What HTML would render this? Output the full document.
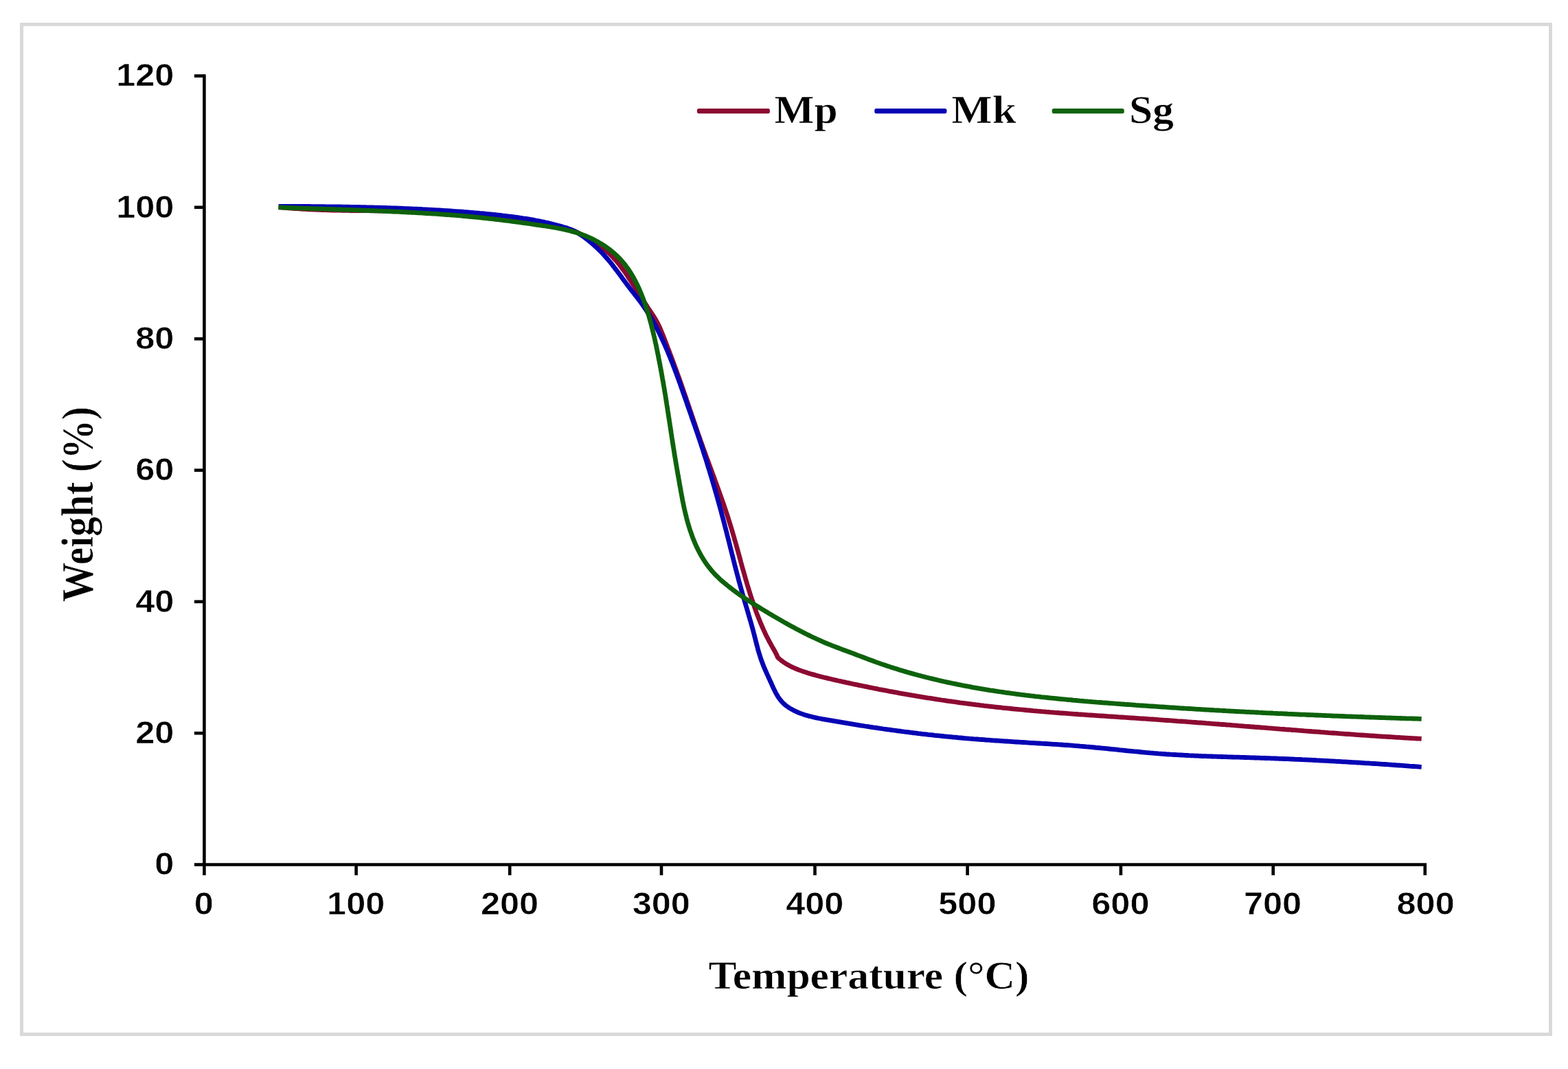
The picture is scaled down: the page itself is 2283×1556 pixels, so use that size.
<!DOCTYPE html>
<html lang="en"><head><meta charset="utf-8"><title>TGA curves</title>
<style>html,body{margin:0;padding:0;background:#fff;}body{width:2283px;height:1556px;overflow:hidden;}svg{display:block;filter:blur(0.55px);}.sans{font-family:"Liberation Sans",sans-serif;font-weight:bold;fill:#000;stroke:#fff;stroke-width:0.6px;stroke-linejoin:round;}.serif{font-family:"Liberation Serif",serif;font-weight:bold;fill:#000;stroke:#fff;stroke-width:0.6px;stroke-linejoin:round;}</style></head><body>
<svg width="2283" height="1556" viewBox="0 0 2283 1556">
<rect x="0" y="0" width="2283" height="1556" fill="#fff"/>
<rect x="31.5" y="35.5" width="2226.0" height="1470.0" fill="none" stroke="#d9d9d9" stroke-width="5.0"/>
<g stroke="#000" stroke-width="4.6" fill="none" stroke-linecap="butt">
<path d="M297.4 108.2 V1260.8"/>
<path d="M295.1 1258.5 H2077.1"/>
<path d="M282.9 1258.5 H297.4"/>
<path d="M282.9 1067.2 H297.4"/>
<path d="M282.9 875.8 H297.4"/>
<path d="M282.9 684.5 H297.4"/>
<path d="M282.9 493.2 H297.4"/>
<path d="M282.9 301.8 H297.4"/>
<path d="M282.9 110.5 H297.4"/>
<path d="M297.4 1258.5 V1274.0"/>
<path d="M518.6 1258.5 V1274.0"/>
<path d="M742.2 1258.5 V1274.0"/>
<path d="M963.0 1258.5 V1274.0"/>
<path d="M1186.5 1258.5 V1274.0"/>
<path d="M1408.6 1258.5 V1274.0"/>
<path d="M1631.9 1258.5 V1274.0"/>
<path d="M1853.7 1258.5 V1274.0"/>
<path d="M2074.8 1258.5 V1274.0"/>
</g>
<text class="sans" font-size="46.9" text-anchor="end" transform="translate(253.4 1273.2) scale(1.077 1)">0</text>
<text class="sans" font-size="46.9" text-anchor="end" transform="translate(253.4 1081.9) scale(1.077 1)">20</text>
<text class="sans" font-size="46.9" text-anchor="end" transform="translate(253.4 890.5) scale(1.077 1)">40</text>
<text class="sans" font-size="46.9" text-anchor="end" transform="translate(253.4 699.2) scale(1.077 1)">60</text>
<text class="sans" font-size="46.9" text-anchor="end" transform="translate(253.4 507.9) scale(1.077 1)">80</text>
<text class="sans" font-size="46.9" text-anchor="end" transform="translate(253.4 316.5) scale(1.077 1)">100</text>
<text class="sans" font-size="46.9" text-anchor="end" transform="translate(253.4 125.2) scale(1.077 1)">120</text>
<text class="sans" font-size="46.9" text-anchor="middle" transform="translate(296.9 1331.0) scale(1.077 1)">0</text>
<text class="sans" font-size="46.9" text-anchor="middle" transform="translate(518.2 1331.0) scale(1.077 1)">100</text>
<text class="sans" font-size="46.9" text-anchor="middle" transform="translate(742.0 1331.0) scale(1.077 1)">200</text>
<text class="sans" font-size="46.9" text-anchor="middle" transform="translate(962.8 1331.0) scale(1.077 1)">300</text>
<text class="sans" font-size="46.9" text-anchor="middle" transform="translate(1186.3 1331.0) scale(1.077 1)">400</text>
<text class="sans" font-size="46.9" text-anchor="middle" transform="translate(1408.4 1331.0) scale(1.077 1)">500</text>
<text class="sans" font-size="46.9" text-anchor="middle" transform="translate(1631.4 1331.0) scale(1.077 1)">600</text>
<text class="sans" font-size="46.9" text-anchor="middle" transform="translate(1853.0 1331.0) scale(1.077 1)">700</text>
<text class="sans" font-size="46.9" text-anchor="middle" transform="translate(2075.6 1331.0) scale(1.077 1)">800</text>
<text class="serif" font-size="57.5" text-anchor="middle" transform="translate(1265 1438.6) scale(1.07 1)">Temperature (°C)</text>
<text class="serif" font-size="57.1" text-anchor="middle" transform="translate(135.4 734) rotate(-90) scale(1 1.138)">Weight (%)</text>
<g fill="none" stroke-width="6.8" stroke-linejoin="round" stroke-linecap="butt">
<path stroke="#8c0a32" d="M405.6 301.5 L408.6 301.8 L411.6 302.1 L414.6 302.3 L417.5 302.6 L420.5 302.8 L423.5 303.1 L426.5 303.3 L429.5 303.5 L432.5 303.7 L435.5 303.9 L438.5 304.1 L441.5 304.3 L444.4 304.4 L447.4 304.6 L450.4 304.8 L453.4 304.9 L456.4 305.0 L459.4 305.2 L462.4 305.3 L465.4 305.4 L468.4 305.5 L471.4 305.6 L474.4 305.7 L477.4 305.8 L480.4 305.9 L483.4 306.0 L486.4 306.0 L489.4 306.1 L492.4 306.2 L495.4 306.2 L498.4 306.3 L501.4 306.3 L504.4 306.4 L507.3 306.4 L510.3 306.5 L513.3 306.5 L516.3 306.5 L519.3 306.6 L522.3 306.6 L525.3 306.6 L528.3 306.7 L531.3 306.7 L534.3 306.7 L537.3 306.7 L540.3 306.8 L543.3 306.8 L546.3 306.8 L549.3 306.8 L552.3 306.8 L555.3 306.9 L558.3 306.9 L561.3 306.9 L564.3 306.9 L567.3 306.9 L570.3 307.0 L573.3 307.0 L576.3 307.0 L579.3 307.1 L582.3 307.1 L585.3 307.1 L588.3 307.2 L591.3 307.2 L594.3 307.3 L597.3 307.3 L600.3 307.4 L603.3 307.5 L606.3 307.5 L609.3 307.6 L612.3 307.7 L615.3 307.7 L618.3 307.8 L621.3 307.9 L624.3 308.0 L627.3 308.1 L630.3 308.2 L633.3 308.4 L636.3 308.5 L639.3 308.6 L642.3 308.8 L645.2 308.9 L648.2 309.1 L651.2 309.2 L654.2 309.4 L657.2 309.6 L660.2 309.8 L663.2 310.0 L666.2 310.2 L669.2 310.4 L672.2 310.6 L675.1 310.9 L678.1 311.1 L681.1 311.4 L684.1 311.6 L687.1 311.9 L690.1 312.2 L693.1 312.5 L696.0 312.8 L699.0 313.1 L702.0 313.4 L705.0 313.7 L708.0 314.0 L710.9 314.3 L713.9 314.7 L716.9 315.0 L719.9 315.4 L722.9 315.7 L725.8 316.1 L728.8 316.5 L731.8 316.9 L734.8 317.2 L737.7 317.6 L740.7 318.0 L743.7 318.4 L746.7 318.8 L749.6 319.3 L752.6 319.7 L755.6 320.1 L758.6 320.5 L761.5 321.0 L764.5 321.4 L767.5 321.9 L770.4 322.3 L773.4 322.8 L776.4 323.2 L779.3 323.7 L782.3 324.2 L785.3 324.6 L788.2 325.1 L791.2 325.6 L794.2 326.1 L797.1 326.6 L800.1 327.1 L803.0 327.6 L806.0 328.2 L808.9 328.7 L811.8 329.4 L814.8 330.0 L817.7 330.7 L820.5 331.4 L823.4 332.2 L826.3 333.0 L829.1 333.9 L831.9 334.9 L834.7 335.9 L837.5 337.0 L840.2 338.2 L842.9 339.4 L845.6 340.8 L848.3 342.1 L850.9 343.5 L853.6 345.0 L856.2 346.5 L858.8 348.1 L861.3 349.7 L863.8 351.3 L866.4 353.0 L868.9 354.7 L871.3 356.4 L873.8 358.2 L876.2 360.0 L878.6 361.8 L880.9 363.6 L883.2 365.5 L885.4 367.5 L887.6 369.5 L889.7 371.6 L891.8 373.7 L893.8 375.9 L895.8 378.1 L897.8 380.3 L899.7 382.6 L901.5 384.9 L903.4 387.3 L905.1 389.7 L906.9 392.1 L908.7 394.5 L910.4 396.9 L912.1 399.4 L913.8 401.9 L915.4 404.4 L917.1 406.9 L918.7 409.4 L920.4 412.0 L922.0 414.5 L923.6 417.0 L925.2 419.6 L926.8 422.1 L928.5 424.6 L930.1 427.2 L931.7 429.7 L933.3 432.3 L934.9 434.8 L936.5 437.3 L938.1 439.8 L939.8 442.4 L941.4 444.9 L943.0 447.4 L944.7 449.9 L946.4 452.4 L948.0 454.9 L949.7 457.4 L951.3 459.9 L952.9 462.4 L954.5 465.0 L955.9 467.6 L957.3 470.2 L958.7 472.8 L960.0 475.5 L961.2 478.2 L962.4 481.0 L963.5 483.7 L964.7 486.5 L965.8 489.2 L966.9 492.0 L967.9 494.8 L969.0 497.6 L970.1 500.4 L971.2 503.2 L972.2 506.0 L973.3 508.8 L974.4 511.6 L975.4 514.4 L976.5 517.2 L977.5 520.0 L978.6 522.8 L979.6 525.6 L980.7 528.4 L981.7 531.3 L982.7 534.1 L983.8 536.9 L984.8 539.7 L985.8 542.5 L986.8 545.3 L987.9 548.2 L988.9 551.0 L989.9 553.8 L990.9 556.6 L991.9 559.4 L992.9 562.3 L993.9 565.1 L994.9 567.9 L995.8 570.8 L996.8 573.6 L997.8 576.4 L998.8 579.3 L999.7 582.1 L1000.7 584.9 L1001.7 587.8 L1002.6 590.6 L1003.6 593.4 L1004.5 596.3 L1005.5 599.1 L1006.5 601.9 L1007.4 604.8 L1008.4 607.6 L1009.3 610.4 L1010.3 613.3 L1011.3 616.1 L1012.2 618.9 L1013.2 621.8 L1014.2 624.6 L1015.1 627.4 L1016.1 630.3 L1017.1 633.1 L1018.1 635.9 L1019.1 638.7 L1020.1 641.6 L1021.1 644.4 L1022.1 647.2 L1023.1 650.0 L1024.1 652.8 L1025.1 655.6 L1026.2 658.5 L1027.2 661.3 L1028.2 664.1 L1029.2 666.9 L1030.3 669.7 L1031.3 672.5 L1032.3 675.3 L1033.4 678.2 L1034.4 681.0 L1035.5 683.8 L1036.5 686.6 L1037.5 689.4 L1038.6 692.2 L1039.6 695.0 L1040.6 697.8 L1041.6 700.7 L1042.7 703.5 L1043.7 706.3 L1044.7 709.1 L1045.7 711.9 L1046.7 714.7 L1047.7 717.6 L1048.7 720.4 L1049.7 723.2 L1050.7 726.0 L1051.7 728.9 L1052.7 731.7 L1053.7 734.5 L1054.7 737.4 L1055.6 740.2 L1056.6 743.0 L1057.5 745.9 L1058.5 748.7 L1059.4 751.6 L1060.3 754.4 L1061.2 757.3 L1062.1 760.1 L1063.0 763.0 L1063.9 765.9 L1064.8 768.7 L1065.6 771.6 L1066.5 774.5 L1067.3 777.3 L1068.2 780.2 L1069.0 783.1 L1069.8 786.0 L1070.7 788.9 L1071.5 791.8 L1072.3 794.7 L1073.1 797.5 L1073.9 800.4 L1074.7 803.3 L1075.5 806.2 L1076.3 809.1 L1077.1 812.0 L1077.9 814.9 L1078.6 817.8 L1079.4 820.7 L1080.2 823.6 L1081.0 826.5 L1081.8 829.4 L1082.7 832.2 L1083.5 835.1 L1084.3 838.0 L1085.1 840.9 L1085.9 843.8 L1086.8 846.7 L1087.6 849.5 L1088.5 852.4 L1089.3 855.3 L1090.2 858.1 L1091.1 861.0 L1092.0 863.9 L1092.9 866.7 L1093.8 869.6 L1094.7 872.4 L1095.7 875.2 L1096.6 878.1 L1097.6 880.9 L1098.6 883.7 L1099.6 886.6 L1100.6 889.4 L1101.6 892.2 L1102.7 895.0 L1103.8 897.8 L1104.9 900.6 L1106.0 903.3 L1107.1 906.1 L1108.3 908.9 L1109.5 911.6 L1110.7 914.4 L1111.9 917.1 L1113.2 919.8 L1114.4 922.5 L1115.7 925.2 L1117.1 927.9 L1118.5 930.5 L1119.8 933.2 L1121.3 935.8 L1122.7 938.5 L1124.2 941.1 L1125.7 943.7 L1127.2 946.3 L1128.6 948.9 L1130.0 951.6 L1131.3 954.3 L1132.5 957.0 L1134.7 959.0 L1137.1 961.0 L1139.4 962.8 L1141.9 964.5 L1144.4 966.1 L1146.9 967.6 L1149.5 969.0 L1152.2 970.4 L1154.9 971.7 L1157.6 972.9 L1160.4 974.0 L1163.1 975.1 L1166.0 976.1 L1168.8 977.1 L1171.6 978.1 L1174.5 979.0 L1177.3 979.9 L1180.2 980.8 L1183.1 981.6 L1186.0 982.4 L1188.9 983.2 L1191.8 984.0 L1194.7 984.8 L1197.6 985.5 L1200.5 986.2 L1203.4 986.9 L1206.4 987.6 L1209.3 988.3 L1212.2 989.0 L1215.2 989.7 L1218.1 990.3 L1221.0 991.0 L1224.0 991.6 L1226.9 992.3 L1229.8 992.9 L1232.8 993.6 L1235.7 994.2 L1238.7 994.8 L1241.6 995.5 L1244.5 996.1 L1247.5 996.7 L1250.4 997.3 L1253.3 997.9 L1256.3 998.5 L1259.2 999.1 L1262.2 999.7 L1265.1 1000.3 L1268.0 1000.9 L1271.0 1001.5 L1273.9 1002.1 L1276.9 1002.7 L1279.8 1003.3 L1282.7 1003.8 L1285.7 1004.4 L1288.6 1004.9 L1291.6 1005.5 L1294.5 1006.1 L1297.5 1006.6 L1300.4 1007.1 L1303.3 1007.7 L1306.3 1008.2 L1309.2 1008.8 L1312.2 1009.3 L1315.1 1009.8 L1318.1 1010.3 L1321.0 1010.8 L1324.0 1011.4 L1326.9 1011.9 L1329.9 1012.4 L1332.8 1012.9 L1335.8 1013.4 L1338.7 1013.8 L1341.7 1014.3 L1344.6 1014.8 L1347.6 1015.3 L1350.5 1015.8 L1353.5 1016.2 L1356.4 1016.7 L1359.4 1017.2 L1362.3 1017.6 L1365.3 1018.1 L1368.2 1018.5 L1371.2 1019.0 L1374.2 1019.4 L1377.1 1019.8 L1380.1 1020.3 L1383.0 1020.7 L1386.0 1021.1 L1388.9 1021.5 L1391.9 1021.9 L1394.9 1022.3 L1397.8 1022.8 L1400.8 1023.2 L1403.7 1023.5 L1406.7 1023.9 L1409.7 1024.3 L1412.6 1024.7 L1415.6 1025.1 L1418.6 1025.5 L1421.5 1025.8 L1424.5 1026.2 L1427.5 1026.6 L1430.4 1026.9 L1433.4 1027.3 L1436.4 1027.6 L1439.3 1028.0 L1442.3 1028.3 L1445.3 1028.6 L1448.3 1029.0 L1451.2 1029.3 L1454.2 1029.6 L1457.2 1029.9 L1460.2 1030.3 L1463.1 1030.6 L1466.1 1030.9 L1469.1 1031.2 L1472.1 1031.5 L1475.0 1031.8 L1478.0 1032.1 L1481.0 1032.4 L1484.0 1032.7 L1487.0 1032.9 L1489.9 1033.2 L1492.9 1033.5 L1495.9 1033.8 L1498.9 1034.0 L1501.9 1034.3 L1504.9 1034.6 L1507.8 1034.8 L1510.8 1035.1 L1513.8 1035.3 L1516.8 1035.6 L1519.8 1035.8 L1522.8 1036.1 L1525.8 1036.3 L1528.7 1036.6 L1531.7 1036.8 L1534.7 1037.1 L1537.7 1037.3 L1540.7 1037.5 L1543.7 1037.8 L1546.7 1038.0 L1549.7 1038.2 L1552.7 1038.4 L1555.6 1038.7 L1558.6 1038.9 L1561.6 1039.1 L1564.6 1039.3 L1567.6 1039.5 L1570.6 1039.8 L1573.6 1040.0 L1576.6 1040.2 L1579.6 1040.4 L1582.6 1040.6 L1585.6 1040.8 L1588.6 1041.0 L1591.5 1041.2 L1594.5 1041.4 L1597.5 1041.6 L1600.5 1041.8 L1603.5 1042.0 L1606.5 1042.2 L1609.5 1042.4 L1612.5 1042.6 L1615.5 1042.8 L1618.5 1043.0 L1621.5 1043.2 L1624.5 1043.4 L1627.5 1043.6 L1630.5 1043.8 L1633.5 1044.0 L1636.4 1044.2 L1639.4 1044.4 L1642.4 1044.6 L1645.4 1044.8 L1648.4 1045.0 L1651.4 1045.2 L1654.4 1045.4 L1657.4 1045.6 L1660.4 1045.8 L1663.4 1046.0 L1666.4 1046.2 L1669.4 1046.4 L1672.4 1046.6 L1675.4 1046.8 L1678.3 1047.0 L1681.3 1047.2 L1684.3 1047.4 L1687.3 1047.7 L1690.3 1047.9 L1693.3 1048.1 L1696.3 1048.3 L1699.3 1048.5 L1702.3 1048.7 L1705.3 1048.9 L1708.2 1049.1 L1711.2 1049.3 L1714.2 1049.6 L1717.2 1049.8 L1720.2 1050.0 L1723.2 1050.2 L1726.2 1050.4 L1729.2 1050.7 L1732.2 1050.9 L1735.1 1051.1 L1738.1 1051.3 L1741.1 1051.5 L1744.1 1051.8 L1747.1 1052.0 L1750.1 1052.2 L1753.1 1052.4 L1756.0 1052.7 L1759.0 1052.9 L1762.0 1053.1 L1765.0 1053.4 L1768.0 1053.6 L1771.0 1053.8 L1774.0 1054.0 L1776.9 1054.3 L1779.9 1054.5 L1782.9 1054.7 L1785.9 1055.0 L1788.9 1055.2 L1791.9 1055.4 L1794.9 1055.7 L1797.8 1055.9 L1800.8 1056.1 L1803.8 1056.4 L1806.8 1056.6 L1809.8 1056.8 L1812.8 1057.1 L1815.7 1057.3 L1818.7 1057.5 L1821.7 1057.8 L1824.7 1058.0 L1827.7 1058.3 L1830.7 1058.5 L1833.7 1058.7 L1836.6 1059.0 L1839.6 1059.2 L1842.6 1059.4 L1845.6 1059.7 L1848.6 1059.9 L1851.6 1060.1 L1854.5 1060.4 L1857.5 1060.6 L1860.5 1060.8 L1863.5 1061.1 L1866.5 1061.3 L1869.5 1061.5 L1872.4 1061.8 L1875.4 1062.0 L1878.4 1062.2 L1881.4 1062.5 L1884.4 1062.7 L1887.4 1062.9 L1890.4 1063.2 L1893.3 1063.4 L1896.3 1063.6 L1899.3 1063.9 L1902.3 1064.1 L1905.3 1064.3 L1908.3 1064.5 L1911.2 1064.8 L1914.2 1065.0 L1917.2 1065.2 L1920.2 1065.4 L1923.2 1065.7 L1926.2 1065.9 L1929.2 1066.1 L1932.1 1066.3 L1935.1 1066.6 L1938.1 1066.8 L1941.1 1067.0 L1944.1 1067.2 L1947.1 1067.4 L1950.1 1067.7 L1953.0 1067.9 L1956.0 1068.1 L1959.0 1068.3 L1962.0 1068.5 L1965.0 1068.7 L1968.0 1068.9 L1971.0 1069.1 L1974.0 1069.4 L1976.9 1069.6 L1979.9 1069.8 L1982.9 1070.0 L1985.9 1070.2 L1988.9 1070.4 L1991.9 1070.6 L1994.9 1070.8 L1997.9 1071.0 L2000.9 1071.2 L2003.8 1071.4 L2006.8 1071.6 L2009.8 1071.8 L2012.8 1072.0 L2015.8 1072.1 L2018.8 1072.3 L2021.8 1072.5 L2024.8 1072.7 L2027.8 1072.9 L2030.8 1073.1 L2033.8 1073.3 L2036.8 1073.4 L2039.7 1073.6 L2042.7 1073.8 L2045.7 1074.0 L2048.7 1074.1 L2051.7 1074.3 L2054.7 1074.5 L2057.7 1074.6 L2060.7 1074.8 L2063.7 1075.0 L2066.7 1075.1 L2069.7 1075.3"/>
<path stroke="#0604b4" d="M405.6 300.3 L408.6 300.3 L411.6 300.3 L414.6 300.3 L417.6 300.3 L420.6 300.4 L423.6 300.4 L426.6 300.4 L429.6 300.4 L432.6 300.4 L435.6 300.4 L438.6 300.5 L441.7 300.5 L444.7 300.5 L447.7 300.5 L450.7 300.5 L453.7 300.6 L456.7 300.6 L459.7 300.6 L462.7 300.6 L465.7 300.7 L468.7 300.7 L471.7 300.7 L474.6 300.8 L477.6 300.8 L480.6 300.8 L483.6 300.9 L486.6 300.9 L489.6 300.9 L492.6 301.0 L495.6 301.0 L498.6 301.1 L501.6 301.1 L504.6 301.2 L507.6 301.2 L510.6 301.3 L513.6 301.3 L516.6 301.4 L519.6 301.4 L522.6 301.5 L525.6 301.6 L528.6 301.6 L531.6 301.7 L534.6 301.8 L537.6 301.8 L540.5 301.9 L543.5 302.0 L546.5 302.1 L549.5 302.1 L552.5 302.2 L555.5 302.3 L558.5 302.4 L561.5 302.5 L564.5 302.6 L567.5 302.7 L570.5 302.8 L573.5 302.9 L576.5 303.0 L579.5 303.1 L582.4 303.2 L585.4 303.3 L588.4 303.5 L591.4 303.6 L594.4 303.7 L597.4 303.8 L600.4 304.0 L603.4 304.1 L606.4 304.2 L609.4 304.4 L612.4 304.5 L615.4 304.7 L618.4 304.8 L621.3 305.0 L624.3 305.1 L627.3 305.3 L630.3 305.5 L633.3 305.6 L636.3 305.8 L639.3 306.0 L642.3 306.2 L645.3 306.4 L648.3 306.6 L651.3 306.7 L654.3 306.9 L657.3 307.1 L660.3 307.4 L663.3 307.6 L666.2 307.8 L669.2 308.0 L672.2 308.2 L675.2 308.5 L678.2 308.7 L681.2 308.9 L684.2 309.2 L687.2 309.4 L690.2 309.7 L693.2 309.9 L696.2 310.2 L699.2 310.5 L702.2 310.7 L705.2 311.0 L708.2 311.3 L711.2 311.6 L714.2 311.9 L717.2 312.2 L720.2 312.5 L723.2 312.8 L726.2 313.1 L729.2 313.4 L732.1 313.8 L735.1 314.1 L738.1 314.5 L741.1 314.9 L744.1 315.2 L747.1 315.6 L750.1 316.0 L753.0 316.4 L756.0 316.9 L759.0 317.3 L761.9 317.8 L764.9 318.2 L767.9 318.7 L770.8 319.2 L773.8 319.7 L776.7 320.2 L779.7 320.8 L782.6 321.3 L785.5 321.9 L788.5 322.5 L791.4 323.1 L794.3 323.8 L797.2 324.4 L800.1 325.1 L803.0 325.8 L805.9 326.5 L808.8 327.2 L811.7 328.0 L814.5 328.7 L817.4 329.5 L820.3 330.4 L823.1 331.2 L825.9 332.1 L828.7 333.1 L831.5 334.2 L834.2 335.4 L836.8 336.6 L839.4 338.0 L841.9 339.5 L844.4 341.1 L846.9 342.7 L849.4 344.4 L851.8 346.2 L854.2 348.0 L856.5 349.9 L858.9 351.8 L861.2 353.7 L863.5 355.7 L865.7 357.7 L868.0 359.7 L870.2 361.8 L872.3 363.9 L874.5 366.0 L876.6 368.2 L878.7 370.4 L880.7 372.6 L882.7 374.9 L884.7 377.1 L886.6 379.4 L888.5 381.7 L890.4 384.0 L892.2 386.3 L894.0 388.7 L895.8 391.1 L897.6 393.4 L899.4 395.8 L901.2 398.2 L903.0 400.6 L904.8 403.1 L906.5 405.5 L908.3 407.9 L910.1 410.3 L911.9 412.7 L913.7 415.1 L915.5 417.5 L917.3 419.9 L919.2 422.3 L921.0 424.6 L922.9 427.0 L924.7 429.3 L926.6 431.7 L928.4 434.0 L930.2 436.4 L932.0 438.8 L933.8 441.2 L935.5 443.6 L937.2 446.1 L938.9 448.6 L940.6 451.0 L942.2 453.6 L943.8 456.1 L945.4 458.6 L946.9 461.2 L948.4 463.8 L949.9 466.4 L951.4 469.0 L952.9 471.6 L954.3 474.2 L955.7 476.9 L957.1 479.5 L958.5 482.2 L959.8 484.9 L961.1 487.6 L962.4 490.3 L963.7 493.0 L965.0 495.7 L966.3 498.5 L967.5 501.2 L968.7 504.0 L969.9 506.7 L971.1 509.5 L972.3 512.2 L973.4 515.0 L974.6 517.8 L975.7 520.5 L976.8 523.3 L978.0 526.1 L979.1 528.9 L980.1 531.7 L981.2 534.5 L982.3 537.3 L983.3 540.1 L984.4 542.9 L985.4 545.7 L986.5 548.5 L987.5 551.3 L988.5 554.1 L989.5 556.9 L990.5 559.7 L991.5 562.6 L992.5 565.4 L993.5 568.2 L994.5 571.0 L995.5 573.8 L996.5 576.7 L997.5 579.5 L998.5 582.3 L999.5 585.1 L1000.4 588.0 L1001.4 590.8 L1002.4 593.6 L1003.4 596.5 L1004.4 599.3 L1005.4 602.1 L1006.4 604.9 L1007.3 607.8 L1008.3 610.6 L1009.3 613.4 L1010.3 616.3 L1011.3 619.1 L1012.3 621.9 L1013.2 624.8 L1014.2 627.6 L1015.2 630.4 L1016.2 633.3 L1017.1 636.1 L1018.1 639.0 L1019.0 641.8 L1020.0 644.6 L1020.9 647.5 L1021.8 650.3 L1022.8 653.2 L1023.7 656.0 L1024.6 658.9 L1025.5 661.7 L1026.4 664.6 L1027.4 667.4 L1028.3 670.3 L1029.2 673.2 L1030.0 676.0 L1030.9 678.9 L1031.8 681.7 L1032.7 684.6 L1033.6 687.5 L1034.4 690.3 L1035.3 693.2 L1036.2 696.1 L1037.0 699.0 L1037.9 701.8 L1038.7 704.7 L1039.5 707.6 L1040.4 710.5 L1041.2 713.3 L1042.0 716.2 L1042.9 719.1 L1043.7 722.0 L1044.5 724.9 L1045.3 727.8 L1046.1 730.6 L1046.9 733.5 L1047.7 736.4 L1048.5 739.3 L1049.3 742.2 L1050.1 745.1 L1050.8 748.0 L1051.6 750.9 L1052.4 753.8 L1053.1 756.7 L1053.9 759.6 L1054.7 762.5 L1055.4 765.4 L1056.2 768.3 L1056.9 771.2 L1057.7 774.1 L1058.4 777.0 L1059.1 779.9 L1059.9 782.8 L1060.6 785.7 L1061.4 788.7 L1062.1 791.6 L1062.8 794.5 L1063.5 797.4 L1064.3 800.3 L1065.0 803.2 L1065.7 806.1 L1066.5 809.0 L1067.2 811.9 L1067.9 814.8 L1068.7 817.8 L1069.4 820.7 L1070.1 823.6 L1070.9 826.5 L1071.6 829.4 L1072.4 832.3 L1073.1 835.2 L1073.9 838.1 L1074.7 841.0 L1075.4 843.9 L1076.2 846.8 L1077.0 849.7 L1077.8 852.6 L1078.6 855.4 L1079.4 858.3 L1080.2 861.2 L1081.0 864.1 L1081.8 867.0 L1082.6 869.9 L1083.5 872.7 L1084.3 875.6 L1085.2 878.5 L1086.0 881.3 L1086.9 884.2 L1087.7 887.1 L1088.6 890.0 L1089.4 892.8 L1090.2 895.7 L1091.1 898.6 L1091.9 901.4 L1092.8 904.3 L1093.6 907.2 L1094.4 910.1 L1095.2 913.0 L1096.0 915.9 L1096.8 918.7 L1097.5 921.6 L1098.3 924.5 L1099.0 927.5 L1099.8 930.4 L1100.5 933.3 L1101.2 936.2 L1102.0 939.1 L1102.8 942.0 L1103.5 944.9 L1104.3 947.8 L1105.2 950.7 L1106.1 953.5 L1107.0 956.4 L1107.9 959.2 L1108.9 962.0 L1110.0 964.8 L1111.0 967.6 L1112.1 970.4 L1113.3 973.2 L1114.5 975.9 L1115.7 978.7 L1116.9 981.4 L1118.2 984.1 L1119.4 986.8 L1120.7 989.6 L1121.9 992.3 L1123.2 995.0 L1124.4 997.8 L1125.6 1000.5 L1126.9 1003.2 L1128.2 1005.9 L1129.6 1008.6 L1131.1 1011.2 L1132.6 1013.8 L1134.3 1016.3 L1136.1 1018.7 L1138.0 1021.0 L1140.0 1023.1 L1142.2 1025.2 L1144.5 1027.1 L1146.9 1028.9 L1149.4 1030.5 L1152.0 1032.1 L1154.7 1033.5 L1157.4 1034.9 L1160.1 1036.1 L1162.8 1037.3 L1165.6 1038.4 L1168.4 1039.4 L1171.3 1040.4 L1174.1 1041.2 L1177.0 1042.1 L1179.9 1042.8 L1182.8 1043.5 L1185.7 1044.2 L1188.7 1044.9 L1191.6 1045.5 L1194.5 1046.0 L1197.5 1046.6 L1200.5 1047.1 L1203.4 1047.7 L1206.4 1048.2 L1209.4 1048.7 L1212.3 1049.2 L1215.3 1049.7 L1218.2 1050.2 L1221.2 1050.7 L1224.2 1051.2 L1227.1 1051.7 L1230.1 1052.2 L1233.1 1052.7 L1236.0 1053.2 L1239.0 1053.7 L1241.9 1054.2 L1244.9 1054.7 L1247.9 1055.1 L1250.8 1055.6 L1253.8 1056.1 L1256.8 1056.5 L1259.7 1057.0 L1262.7 1057.4 L1265.6 1057.9 L1268.6 1058.3 L1271.6 1058.8 L1274.5 1059.2 L1277.5 1059.7 L1280.5 1060.1 L1283.4 1060.5 L1286.4 1061.0 L1289.3 1061.4 L1292.3 1061.8 L1295.3 1062.2 L1298.2 1062.6 L1301.2 1063.0 L1304.2 1063.4 L1307.1 1063.8 L1310.1 1064.2 L1313.1 1064.6 L1316.0 1065.0 L1319.0 1065.4 L1322.0 1065.7 L1324.9 1066.1 L1327.9 1066.5 L1330.9 1066.8 L1333.9 1067.2 L1336.8 1067.6 L1339.8 1067.9 L1342.8 1068.3 L1345.7 1068.6 L1348.7 1068.9 L1351.7 1069.3 L1354.7 1069.6 L1357.7 1069.9 L1360.6 1070.3 L1363.6 1070.6 L1366.6 1070.9 L1369.6 1071.2 L1372.5 1071.5 L1375.5 1071.8 L1378.5 1072.1 L1381.5 1072.4 L1384.5 1072.7 L1387.5 1073.0 L1390.5 1073.2 L1393.4 1073.5 L1396.4 1073.8 L1399.4 1074.0 L1402.4 1074.3 L1405.4 1074.6 L1408.4 1074.8 L1411.4 1075.1 L1414.4 1075.3 L1417.4 1075.6 L1420.4 1075.8 L1423.3 1076.0 L1426.3 1076.3 L1429.3 1076.5 L1432.3 1076.7 L1435.3 1077.0 L1438.3 1077.2 L1441.3 1077.4 L1444.3 1077.6 L1447.3 1077.8 L1450.3 1078.0 L1453.3 1078.2 L1456.3 1078.4 L1459.3 1078.6 L1462.3 1078.8 L1465.3 1079.0 L1468.3 1079.2 L1471.3 1079.4 L1474.3 1079.6 L1477.2 1079.8 L1480.2 1080.0 L1483.2 1080.2 L1486.2 1080.4 L1489.2 1080.5 L1492.2 1080.7 L1495.2 1080.9 L1498.2 1081.1 L1501.2 1081.3 L1504.2 1081.4 L1507.2 1081.6 L1510.2 1081.8 L1513.2 1082.0 L1516.1 1082.2 L1519.1 1082.3 L1522.1 1082.5 L1525.1 1082.7 L1528.1 1082.9 L1531.1 1083.1 L1534.1 1083.3 L1537.1 1083.4 L1540.1 1083.6 L1543.0 1083.8 L1546.0 1084.0 L1549.0 1084.3 L1552.0 1084.5 L1555.0 1084.7 L1558.0 1084.9 L1561.0 1085.1 L1564.0 1085.4 L1566.9 1085.6 L1569.9 1085.8 L1572.9 1086.1 L1575.9 1086.3 L1578.9 1086.6 L1581.9 1086.9 L1584.9 1087.1 L1587.8 1087.4 L1590.8 1087.7 L1593.8 1088.0 L1596.8 1088.3 L1599.8 1088.5 L1602.8 1088.8 L1605.8 1089.1 L1608.7 1089.4 L1611.7 1089.7 L1614.7 1090.0 L1617.7 1090.3 L1620.7 1090.6 L1623.7 1090.9 L1626.6 1091.2 L1629.6 1091.6 L1632.6 1091.9 L1635.6 1092.2 L1638.6 1092.5 L1641.6 1092.8 L1644.6 1093.1 L1647.5 1093.4 L1650.5 1093.7 L1653.5 1093.9 L1656.5 1094.2 L1659.5 1094.5 L1662.5 1094.8 L1665.5 1095.1 L1668.5 1095.4 L1671.4 1095.6 L1674.4 1095.9 L1677.4 1096.1 L1680.4 1096.4 L1683.4 1096.6 L1686.4 1096.9 L1689.4 1097.1 L1692.4 1097.3 L1695.4 1097.5 L1698.3 1097.8 L1701.3 1098.0 L1704.3 1098.2 L1707.3 1098.3 L1710.3 1098.5 L1713.3 1098.7 L1716.3 1098.9 L1719.3 1099.0 L1722.3 1099.2 L1725.3 1099.4 L1728.3 1099.5 L1731.3 1099.7 L1734.3 1099.8 L1737.3 1099.9 L1740.3 1100.1 L1743.3 1100.2 L1746.3 1100.3 L1749.2 1100.5 L1752.2 1100.6 L1755.2 1100.7 L1758.2 1100.8 L1761.2 1100.9 L1764.2 1101.0 L1767.2 1101.1 L1770.2 1101.2 L1773.2 1101.3 L1776.2 1101.4 L1779.2 1101.5 L1782.2 1101.6 L1785.2 1101.7 L1788.2 1101.8 L1791.2 1101.9 L1794.2 1102.0 L1797.2 1102.1 L1800.2 1102.1 L1803.2 1102.2 L1806.2 1102.3 L1809.2 1102.4 L1812.2 1102.5 L1815.2 1102.6 L1818.2 1102.7 L1821.2 1102.8 L1824.2 1102.9 L1827.2 1103.0 L1830.2 1103.1 L1833.2 1103.2 L1836.2 1103.3 L1839.2 1103.4 L1842.2 1103.5 L1845.2 1103.6 L1848.2 1103.7 L1851.2 1103.8 L1854.2 1103.9 L1857.2 1104.0 L1860.2 1104.1 L1863.2 1104.3 L1866.2 1104.4 L1869.1 1104.5 L1872.1 1104.6 L1875.1 1104.7 L1878.1 1104.9 L1881.1 1105.0 L1884.1 1105.1 L1887.1 1105.3 L1890.1 1105.4 L1893.1 1105.5 L1896.1 1105.7 L1899.1 1105.8 L1902.1 1105.9 L1905.1 1106.1 L1908.1 1106.2 L1911.1 1106.4 L1914.1 1106.5 L1917.1 1106.7 L1920.1 1106.8 L1923.1 1107.0 L1926.1 1107.1 L1929.1 1107.3 L1932.1 1107.4 L1935.0 1107.6 L1938.0 1107.8 L1941.0 1107.9 L1944.0 1108.1 L1947.0 1108.3 L1950.0 1108.4 L1953.0 1108.6 L1956.0 1108.8 L1959.0 1108.9 L1962.0 1109.1 L1965.0 1109.3 L1968.0 1109.5 L1971.0 1109.6 L1974.0 1109.8 L1977.0 1110.0 L1980.0 1110.2 L1982.9 1110.4 L1985.9 1110.6 L1988.9 1110.8 L1991.9 1110.9 L1994.9 1111.1 L1997.9 1111.3 L2000.9 1111.5 L2003.9 1111.7 L2006.9 1111.9 L2009.9 1112.1 L2012.9 1112.3 L2015.9 1112.5 L2018.9 1112.7 L2021.8 1112.9 L2024.8 1113.1 L2027.8 1113.3 L2030.8 1113.5 L2033.8 1113.8 L2036.8 1114.0 L2039.8 1114.2 L2042.8 1114.4 L2045.8 1114.6 L2048.8 1114.8 L2051.8 1115.1 L2054.7 1115.3 L2057.7 1115.5 L2060.7 1115.7 L2063.7 1115.9 L2066.7 1116.2 L2069.7 1116.4"/>
<path stroke="#0e620c" d="M405.6 301.8 L408.6 301.9 L411.6 302.0 L414.6 302.2 L417.5 302.3 L420.5 302.4 L423.5 302.5 L426.5 302.6 L429.5 302.7 L432.5 302.9 L435.5 303.0 L438.5 303.1 L441.5 303.2 L444.5 303.3 L447.5 303.4 L450.5 303.5 L453.4 303.6 L456.4 303.7 L459.4 303.8 L462.4 303.9 L465.4 304.0 L468.4 304.1 L471.4 304.2 L474.4 304.3 L477.4 304.4 L480.4 304.5 L483.4 304.6 L486.4 304.7 L489.4 304.8 L492.4 304.9 L495.4 305.0 L498.4 305.1 L501.4 305.2 L504.4 305.3 L507.4 305.4 L510.4 305.5 L513.4 305.6 L516.4 305.7 L519.4 305.8 L522.4 305.9 L525.4 306.0 L528.4 306.1 L531.4 306.3 L534.4 306.4 L537.4 306.5 L540.4 306.6 L543.4 306.7 L546.4 306.8 L549.3 306.9 L552.3 307.1 L555.3 307.2 L558.3 307.3 L561.3 307.4 L564.3 307.6 L567.3 307.7 L570.3 307.8 L573.3 308.0 L576.3 308.1 L579.3 308.2 L582.3 308.4 L585.3 308.5 L588.3 308.7 L591.3 308.8 L594.3 309.0 L597.3 309.1 L600.3 309.3 L603.3 309.4 L606.3 309.6 L609.3 309.8 L612.3 309.9 L615.2 310.1 L618.2 310.3 L621.2 310.5 L624.2 310.7 L627.2 310.9 L630.2 311.1 L633.2 311.2 L636.2 311.4 L639.2 311.7 L642.2 311.9 L645.1 312.1 L648.1 312.3 L651.1 312.5 L654.1 312.7 L657.1 313.0 L660.1 313.2 L663.0 313.4 L666.0 313.7 L669.0 313.9 L672.0 314.2 L675.0 314.5 L678.0 314.7 L680.9 315.0 L683.9 315.3 L686.9 315.5 L689.9 315.8 L692.8 316.1 L695.8 316.4 L698.8 316.7 L701.8 317.0 L704.7 317.3 L707.7 317.6 L710.7 318.0 L713.7 318.3 L716.6 318.6 L719.6 319.0 L722.6 319.3 L725.5 319.7 L728.5 320.0 L731.5 320.4 L734.4 320.8 L737.4 321.1 L740.4 321.5 L743.3 321.9 L746.3 322.3 L749.3 322.7 L752.2 323.1 L755.2 323.5 L758.2 323.9 L761.1 324.3 L764.1 324.7 L767.1 325.1 L770.0 325.5 L773.0 326.0 L776.0 326.4 L779.0 326.8 L781.9 327.3 L784.9 327.7 L787.9 328.1 L790.8 328.6 L793.8 329.0 L796.8 329.5 L799.8 330.0 L802.7 330.5 L805.7 331.0 L808.7 331.5 L811.7 332.0 L814.6 332.6 L817.6 333.1 L820.5 333.8 L823.4 334.4 L826.4 335.1 L829.3 335.8 L832.2 336.6 L835.1 337.4 L838.0 338.2 L840.8 339.1 L843.7 340.1 L846.5 341.1 L849.3 342.1 L852.1 343.2 L854.9 344.4 L857.6 345.6 L860.4 346.8 L863.0 348.1 L865.7 349.5 L868.4 350.9 L871.0 352.3 L873.5 353.8 L876.1 355.3 L878.6 356.9 L881.1 358.6 L883.5 360.3 L885.9 362.0 L888.3 363.8 L890.6 365.6 L892.9 367.5 L895.1 369.5 L897.3 371.5 L899.4 373.5 L901.5 375.6 L903.5 377.8 L905.5 380.0 L907.4 382.2 L909.3 384.5 L911.2 386.9 L912.9 389.2 L914.7 391.7 L916.3 394.2 L918.0 396.7 L919.5 399.2 L921.1 401.8 L922.6 404.5 L924.0 407.1 L925.4 409.8 L926.8 412.5 L928.1 415.2 L929.4 418.0 L930.7 420.8 L931.9 423.6 L933.0 426.4 L934.2 429.2 L935.3 432.0 L936.4 434.8 L937.4 437.7 L938.5 440.5 L939.5 443.4 L940.4 446.2 L941.4 449.1 L942.3 451.9 L943.2 454.8 L944.0 457.6 L944.9 460.5 L945.7 463.4 L946.5 466.2 L947.3 469.1 L948.1 472.0 L948.8 474.9 L949.5 477.7 L950.2 480.6 L950.9 483.5 L951.6 486.4 L952.3 489.3 L953.0 492.2 L953.6 495.1 L954.2 498.0 L954.9 500.9 L955.5 503.8 L956.1 506.7 L956.7 509.6 L957.3 512.6 L957.9 515.5 L958.5 518.4 L959.0 521.4 L959.6 524.3 L960.2 527.2 L960.8 530.2 L961.3 533.1 L961.9 536.1 L962.4 539.0 L963.0 542.0 L963.5 544.9 L964.0 547.9 L964.5 550.8 L965.1 553.8 L965.6 556.7 L966.1 559.7 L966.6 562.7 L967.1 565.6 L967.6 568.6 L968.1 571.5 L968.6 574.5 L969.1 577.5 L969.5 580.4 L970.0 583.4 L970.5 586.4 L970.9 589.3 L971.4 592.3 L971.9 595.2 L972.3 598.2 L972.8 601.2 L973.2 604.1 L973.7 607.1 L974.2 610.1 L974.6 613.0 L975.1 616.0 L975.5 619.0 L976.0 621.9 L976.4 624.9 L976.9 627.8 L977.3 630.8 L977.8 633.8 L978.2 636.7 L978.7 639.7 L979.1 642.6 L979.6 645.6 L980.1 648.6 L980.5 651.5 L981.0 654.5 L981.5 657.4 L981.9 660.4 L982.4 663.3 L982.9 666.3 L983.4 669.2 L983.9 672.2 L984.4 675.1 L984.9 678.1 L985.4 681.0 L985.9 684.0 L986.4 686.9 L986.9 689.9 L987.4 692.8 L988.0 695.7 L988.5 698.7 L989.0 701.6 L989.5 704.6 L990.0 707.5 L990.6 710.4 L991.1 713.4 L991.6 716.3 L992.2 719.3 L992.7 722.2 L993.3 725.1 L993.8 728.1 L994.4 731.0 L995.0 733.9 L995.6 736.9 L996.2 739.8 L996.9 742.8 L997.6 745.7 L998.3 748.6 L999.0 751.5 L999.7 754.4 L1000.5 757.4 L1001.3 760.3 L1002.1 763.1 L1003.0 766.0 L1003.9 768.9 L1004.8 771.8 L1005.8 774.6 L1006.8 777.4 L1007.8 780.3 L1008.8 783.1 L1009.9 785.9 L1011.1 788.6 L1012.2 791.4 L1013.5 794.1 L1014.7 796.8 L1016.0 799.5 L1017.4 802.2 L1018.8 804.9 L1020.2 807.5 L1021.7 810.1 L1023.2 812.6 L1024.8 815.2 L1026.4 817.6 L1028.1 820.1 L1029.8 822.5 L1031.6 824.9 L1033.4 827.2 L1035.3 829.5 L1037.2 831.8 L1039.2 834.0 L1041.2 836.1 L1043.3 838.3 L1045.5 840.3 L1047.6 842.4 L1049.8 844.4 L1052.1 846.4 L1054.3 848.3 L1056.6 850.2 L1059.0 852.1 L1061.3 854.0 L1063.7 855.8 L1066.1 857.7 L1068.5 859.5 L1070.9 861.2 L1073.3 863.0 L1075.7 864.7 L1078.2 866.5 L1080.7 868.2 L1083.1 869.9 L1085.6 871.5 L1088.1 873.2 L1090.7 874.9 L1093.2 876.5 L1095.7 878.1 L1098.2 879.7 L1100.8 881.3 L1103.3 882.9 L1105.9 884.5 L1108.5 886.1 L1111.0 887.6 L1113.6 889.2 L1116.2 890.7 L1118.8 892.3 L1121.3 893.8 L1123.9 895.3 L1126.5 896.9 L1129.1 898.4 L1131.7 899.9 L1134.3 901.4 L1136.9 902.9 L1139.5 904.4 L1142.1 905.9 L1144.7 907.3 L1147.3 908.8 L1149.9 910.2 L1152.6 911.7 L1155.2 913.1 L1157.8 914.5 L1160.5 915.9 L1163.1 917.3 L1165.8 918.7 L1168.4 920.1 L1171.1 921.4 L1173.7 922.8 L1176.4 924.1 L1179.1 925.4 L1181.8 926.7 L1184.5 928.0 L1187.2 929.2 L1189.9 930.5 L1192.6 931.7 L1195.3 932.9 L1198.1 934.1 L1200.8 935.3 L1203.6 936.5 L1206.3 937.6 L1209.1 938.7 L1211.9 939.8 L1214.7 940.9 L1217.5 942.0 L1220.3 943.0 L1223.1 944.1 L1225.9 945.2 L1228.7 946.2 L1231.5 947.2 L1234.3 948.3 L1237.1 949.3 L1240.0 950.4 L1242.8 951.4 L1245.6 952.5 L1248.4 953.6 L1251.2 954.6 L1254.0 955.7 L1256.9 956.8 L1259.7 957.8 L1262.5 958.9 L1265.3 960.0 L1268.2 961.0 L1271.0 962.0 L1273.8 963.1 L1276.6 964.1 L1279.5 965.1 L1282.3 966.1 L1285.2 967.1 L1288.0 968.0 L1290.8 969.0 L1293.7 969.9 L1296.5 970.9 L1299.4 971.8 L1302.3 972.7 L1305.1 973.6 L1308.0 974.5 L1310.8 975.4 L1313.7 976.2 L1316.6 977.1 L1319.5 977.9 L1322.3 978.8 L1325.2 979.6 L1328.1 980.4 L1331.0 981.2 L1333.9 982.0 L1336.7 982.8 L1339.6 983.5 L1342.5 984.3 L1345.4 985.0 L1348.3 985.8 L1351.2 986.5 L1354.1 987.2 L1357.0 987.9 L1359.9 988.6 L1362.8 989.3 L1365.7 990.0 L1368.7 990.7 L1371.6 991.4 L1374.5 992.0 L1377.4 992.7 L1380.3 993.3 L1383.2 993.9 L1386.2 994.5 L1389.1 995.1 L1392.0 995.7 L1394.9 996.3 L1397.9 996.9 L1400.8 997.5 L1403.7 998.1 L1406.7 998.6 L1409.6 999.2 L1412.5 999.7 L1415.5 1000.3 L1418.4 1000.8 L1421.4 1001.3 L1424.3 1001.8 L1427.3 1002.3 L1430.2 1002.8 L1433.2 1003.3 L1436.1 1003.8 L1439.1 1004.3 L1442.0 1004.8 L1445.0 1005.2 L1447.9 1005.7 L1450.9 1006.1 L1453.9 1006.6 L1456.8 1007.0 L1459.8 1007.4 L1462.7 1007.9 L1465.7 1008.3 L1468.7 1008.7 L1471.6 1009.1 L1474.6 1009.5 L1477.6 1009.9 L1480.5 1010.3 L1483.5 1010.7 L1486.5 1011.1 L1489.5 1011.4 L1492.4 1011.8 L1495.4 1012.2 L1498.4 1012.5 L1501.4 1012.9 L1504.3 1013.2 L1507.3 1013.6 L1510.3 1013.9 L1513.3 1014.2 L1516.3 1014.6 L1519.2 1014.9 L1522.2 1015.2 L1525.2 1015.5 L1528.2 1015.8 L1531.2 1016.1 L1534.2 1016.4 L1537.1 1016.7 L1540.1 1017.0 L1543.1 1017.3 L1546.1 1017.6 L1549.1 1017.9 L1552.1 1018.2 L1555.1 1018.5 L1558.1 1018.7 L1561.0 1019.0 L1564.0 1019.3 L1567.0 1019.5 L1570.0 1019.8 L1573.0 1020.1 L1576.0 1020.3 L1579.0 1020.6 L1582.0 1020.8 L1585.0 1021.1 L1588.0 1021.3 L1591.0 1021.6 L1594.0 1021.8 L1596.9 1022.1 L1599.9 1022.3 L1602.9 1022.5 L1605.9 1022.8 L1608.9 1023.0 L1611.9 1023.2 L1614.9 1023.5 L1617.9 1023.7 L1620.9 1023.9 L1623.9 1024.2 L1626.9 1024.4 L1629.9 1024.6 L1632.8 1024.8 L1635.8 1025.0 L1638.8 1025.3 L1641.8 1025.5 L1644.8 1025.7 L1647.8 1025.9 L1650.8 1026.1 L1653.8 1026.4 L1656.8 1026.6 L1659.8 1026.8 L1662.8 1027.0 L1665.7 1027.2 L1668.7 1027.4 L1671.7 1027.6 L1674.7 1027.8 L1677.7 1028.0 L1680.7 1028.2 L1683.7 1028.4 L1686.7 1028.6 L1689.7 1028.8 L1692.7 1029.0 L1695.7 1029.2 L1698.6 1029.4 L1701.6 1029.6 L1704.6 1029.8 L1707.6 1030.0 L1710.6 1030.2 L1713.6 1030.4 L1716.6 1030.6 L1719.6 1030.8 L1722.6 1031.0 L1725.5 1031.2 L1728.5 1031.3 L1731.5 1031.5 L1734.5 1031.7 L1737.5 1031.9 L1740.5 1032.1 L1743.5 1032.3 L1746.5 1032.4 L1749.5 1032.6 L1752.5 1032.8 L1755.4 1033.0 L1758.4 1033.1 L1761.4 1033.3 L1764.4 1033.5 L1767.4 1033.7 L1770.4 1033.8 L1773.4 1034.0 L1776.4 1034.2 L1779.4 1034.3 L1782.3 1034.5 L1785.3 1034.7 L1788.3 1034.8 L1791.3 1035.0 L1794.3 1035.1 L1797.3 1035.3 L1800.3 1035.5 L1803.3 1035.6 L1806.3 1035.8 L1809.3 1035.9 L1812.2 1036.1 L1815.2 1036.3 L1818.2 1036.4 L1821.2 1036.6 L1824.2 1036.7 L1827.2 1036.9 L1830.2 1037.0 L1833.2 1037.2 L1836.2 1037.3 L1839.2 1037.5 L1842.1 1037.6 L1845.1 1037.8 L1848.1 1037.9 L1851.1 1038.0 L1854.1 1038.2 L1857.1 1038.3 L1860.1 1038.5 L1863.1 1038.6 L1866.1 1038.7 L1869.1 1038.9 L1872.0 1039.0 L1875.0 1039.2 L1878.0 1039.3 L1881.0 1039.4 L1884.0 1039.6 L1887.0 1039.7 L1890.0 1039.8 L1893.0 1040.0 L1896.0 1040.1 L1899.0 1040.2 L1902.0 1040.4 L1904.9 1040.5 L1907.9 1040.6 L1910.9 1040.7 L1913.9 1040.9 L1916.9 1041.0 L1919.9 1041.1 L1922.9 1041.2 L1925.9 1041.4 L1928.9 1041.5 L1931.9 1041.6 L1934.9 1041.7 L1937.9 1041.8 L1940.9 1042.0 L1943.9 1042.1 L1946.8 1042.2 L1949.8 1042.3 L1952.8 1042.4 L1955.8 1042.5 L1958.8 1042.6 L1961.8 1042.8 L1964.8 1042.9 L1967.8 1043.0 L1970.8 1043.1 L1973.8 1043.2 L1976.8 1043.3 L1979.8 1043.4 L1982.8 1043.5 L1985.8 1043.6 L1988.8 1043.8 L1991.8 1043.9 L1994.8 1044.0 L1997.7 1044.1 L2000.7 1044.2 L2003.7 1044.3 L2006.7 1044.4 L2009.7 1044.5 L2012.7 1044.6 L2015.7 1044.7 L2018.7 1044.8 L2021.7 1044.9 L2024.7 1045.0 L2027.7 1045.1 L2030.7 1045.2 L2033.7 1045.3 L2036.7 1045.4 L2039.7 1045.5 L2042.7 1045.6 L2045.7 1045.7 L2048.7 1045.8 L2051.7 1045.8 L2054.7 1045.9 L2057.7 1046.0 L2060.7 1046.1 L2063.7 1046.2 L2066.7 1046.3 L2069.7 1046.4"/>
</g>
<rect x="1014.9" y="158.0" width="106.0" height="7.2" rx="2.6" ry="2.6" fill="#8c0a32"/>
<rect x="1273.3" y="158.0" width="105.1" height="7.2" rx="2.6" ry="2.6" fill="#0604b4"/>
<rect x="1531.7" y="158.0" width="105.1" height="7.2" rx="2.6" ry="2.6" fill="#0e620c"/>
<text class="serif" font-size="58" text-anchor="start" transform="translate(1127.6 178.6) scale(1.060 1)">Mp</text>
<text class="serif" font-size="58" text-anchor="start" transform="translate(1385.3 178.6) scale(1.085 1)">Mk</text>
<text class="serif" font-size="58" text-anchor="start" transform="translate(1644.0 178.6) scale(1.060 1)">Sg</text>
</svg></body></html>
